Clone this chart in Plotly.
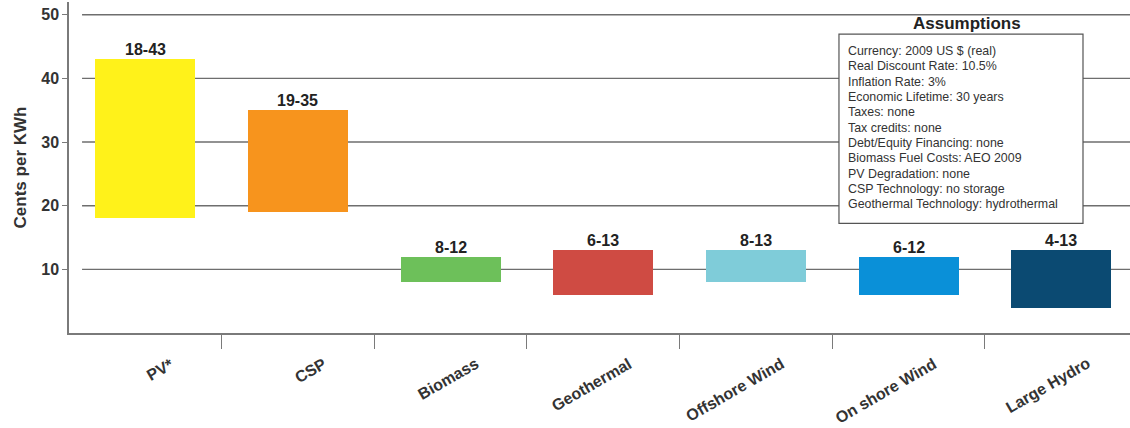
import plotly.graph_objects as go

# Levelized cost ranges (cents per kWh) by technology
technologies = ["PV*", "CSP", "Biomass", "Geothermal", "Offshore Wind", "On shore Wind", "Large Hydro"]
cost_low = [18, 19, 8, 6, 8, 6, 4]
cost_high = [43, 35, 12, 13, 13, 12, 13]
bar_colors = ["#fff21a", "#f7941d", "#6dc05a", "#cf4b43", "#7fccd9", "#0a90d8", "#0b4a72"]

y_ticks = [10, 20, 30, 40, 50]

assumptions = [
    "Currency: 2009 US $ (real)",
    "Real Discount Rate: 10.5%",
    "Inflation Rate: 3%",
    "Economic Lifetime: 30 years",
    "Taxes: none",
    "Tax credits: none",
    "Debt/Equity Financing: none",
    "Biomass Fuel Costs: AEO 2009",
    "PV Degradation: none",
    "CSP Technology: no storage",
    "Geothermal Technology: hydrothermal",
]

x_pos = list(range(len(technologies)))
heights = [h - l for l, h in zip(cost_low, cost_high)]
range_labels = [f"{l}-{h}" for l, h in zip(cost_low, cost_high)]
# category separators sit halfway between neighbouring bars
separators = [i + 0.5 for i in x_pos[:-1]]

FONT = "Liberation Sans, Arial, sans-serif"
AXIS_GREY = "#7a7a7a"

fig = go.Figure()
fig.add_trace(go.Bar(
    x=x_pos,
    y=heights,
    base=cost_low,
    width=0.655,
    marker=dict(color=bar_colors, line=dict(width=0)),
    hoverinfo="skip",
))

shapes = []
# horizontal reference lines, starting a little right of the y axis
for v in y_ticks:
    shapes.append(dict(type="line", xref="paper", yref="y", x0=0.0123, x1=1, y0=v, y1=v,
                       line=dict(color="#6e6e6e", width=1.4), layer="below"))
# assumptions box
shapes.append(dict(type="rect", xref="paper", yref="paper", x0=0.7257, x1=0.9557, y0=0.331, y1=0.903,
                   line=dict(color="#555555", width=1.2), fillcolor="white", layer="above"))

annotations = []
# range labels above each bar
for i, (top, lab) in enumerate(zip(cost_high, range_labels)):
    annotations.append(dict(
        x=i, y=top, xref="x", yref="y", text=lab, showarrow=False,
        xanchor="center", yanchor="bottom", yshift=-1,
        font=dict(family=FONT, size=16, color="#222222", weight="bold"),
    ))
# slanted category names under the axis
for i, name in enumerate(technologies):
    annotations.append(dict(
        x=i, y=0, xref="x", yref="y", text=name, showarrow=False,
        textangle=-30, xanchor="right", yanchor="top", xshift=34, yshift=-19,
        font=dict(family=FONT, size=16, color="#333333", weight="bold"),
    ))
annotations.append(dict(
    x=0.8464, y=0.935, xref="paper", yref="paper", text="<b>Assumptions</b>", showarrow=False,
    xanchor="center", yanchor="middle", font=dict(family=FONT, size=17, color="#222222"),
))
# assumption lines, one per row with a tight line pitch
line_top, line_step = 0.8517, 0.0463
for k, line in enumerate(assumptions):
    annotations.append(dict(
        x=0.7323, y=line_top - k * line_step, xref="paper", yref="paper", text=line, showarrow=False,
        xanchor="left", yanchor="middle", align="left",
        font=dict(family=FONT, size=12.4, color="#333333"),
    ))

fig.update_layout(
    width=1130, height=428,
    margin=dict(l=69, r=0, t=2, b=95),
    plot_bgcolor="white", paper_bgcolor="white",
    showlegend=False,
    shapes=shapes,
    annotations=annotations,
    bargap=0,
    xaxis=dict(
        range=[-0.5, 6.45],
        tickmode="array", tickvals=separators, ticktext=[""] * len(separators),
        ticks="outside", ticklen=14, tickwidth=1.3, tickcolor=AXIS_GREY,
        showgrid=False, zeroline=False,
        showline=True, linecolor=AXIS_GREY, linewidth=1.5,
    ),
    yaxis=dict(
        range=[0, 52], tickvals=y_ticks, ticks="outside", ticklen=5, tickwidth=1.3, tickcolor=AXIS_GREY,
        tickfont=dict(family=FONT, size=16, color="#333333", weight="bold"),
        showgrid=False, zeroline=False,
        showline=True, linecolor=AXIS_GREY, linewidth=1.5,
        title=dict(text="Cents per KWh", standoff=10,
                   font=dict(family=FONT, size=17, color="#333333", weight="bold")),
    ),
)

fig.write_html("out.html")
